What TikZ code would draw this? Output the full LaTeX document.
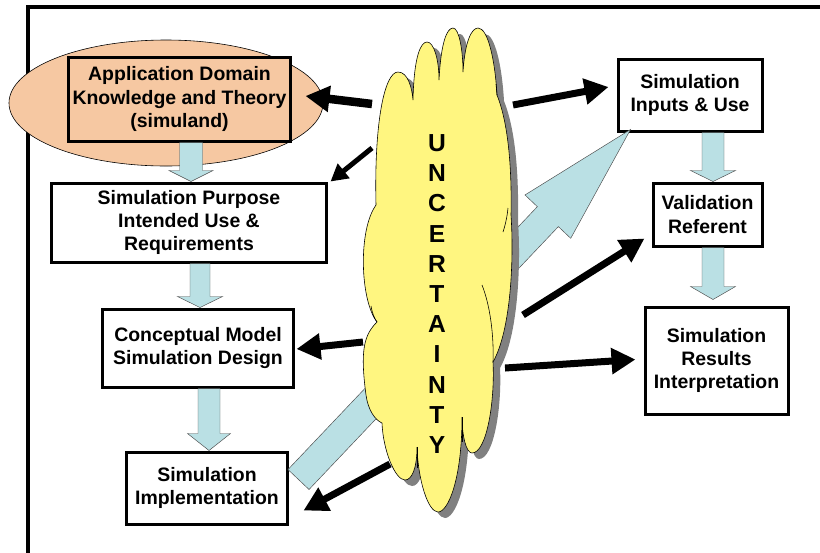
\documentclass[tikz,border=0pt]{standalone}
\usepackage{fontspec}
\setmainfont{Liberation Sans}
\usetikzlibrary{arrows.meta, calc}
\definecolor{peach}{RGB}{246, 200, 162}
\definecolor{paleblue}{RGB}{186, 224, 228}
\definecolor{cloudyellow}{RGB}{255, 246, 128}
\definecolor{shadowgray}{RGB}{128, 128, 128}
\newcommand\boxfont{\fontsize{16.6}{19.8}\selectfont\bfseries}
% tail, tip, shaft half width, head half width, head length
\newcommand\blockarrow[5]{%
  \filldraw[blockarrow] let \p1=#1, \p2=#2,
    \n1={atan2(\y2-\y1,\x2-\x1)}, \n2={veclen(\x2-\x1,\y2-\y1)} in
    ($(\p1)+(\n1+90:#3)$) -- ($(\p1)+(\n1:{\n2-#5})+(\n1+90:#3)$)
    -- ($(\p1)+(\n1:{\n2-#5})+(\n1+90:#4)$) -- (\p2)
    -- ($(\p1)+(\n1:{\n2-#5})+(\n1-90:#4)$)
    -- ($(\p1)+(\n1:{\n2-#5})+(\n1-90:#3)$)
    -- ($(\p1)+(\n1-90:#3)$) -- cycle;}
\newcommand\cloudpath{(376,205) .. controls (374,120) and (385,72) .. (398,72)
  .. controls (408,72) and (412,88) .. (413,100)
  .. controls (414,55) and (421,42) .. (427,42)
  .. controls (434,42) and (439,60) .. (439,80)
  .. controls (441,42) and (447,28) .. (453,28)
  .. controls (459,28) and (463,50) .. (463,72)
  .. controls (465,40) and (472,28) .. (478,28)
  .. controls (488,28) and (495,60) .. (497,95)
  .. controls (507,120) and (512,160) .. (511,215)
  .. controls (514,260) and (511,330) .. (493,362)
  .. controls (495,400) and (487,453) .. (472,453)
  .. controls (466,453) and (462,435) .. (462,417)
  .. controls (462,480) and (448,512) .. (438,512)
  .. controls (428,512) and (418,480) .. (417,447)
  .. controls (417,468) and (412,480) .. (405,480)
  .. controls (395,480) and (383,450) .. (382,423)
  .. controls (375,420) and (368,410) .. (366,395)
  .. controls (360,350) and (364,335) .. (377,322)
  .. controls (360,300) and (358,230) .. (376,205) -- cycle}

\begin{document}
\begin{tikzpicture}[x=0.03cm, y=-0.03cm,
  box/.style={draw, line width=0.09cm, font=\boxfont, align=center, inner sep=0pt},
  blockarrow/.style={fill=paleblue, draw=black!70, line width=0.4pt},
  blackarrow/.style={line width=0.21cm, -{Triangle[length=0.72cm, width=0.75cm]}},
  lobe/.style={draw=black, line width=0.5pt},
]
\useasboundingbox (0,0) rectangle (820,552);

% Frame
\draw[line width=0.12cm] (27.5,560) -- (27.5,6.5) -- (830,6.5);

% Domain
\filldraw[fill=peach, draw=black, line width=0.5pt] (166,103) ellipse [x radius=4.71cm, y radius=1.89cm];

% Boxes
\node[box, fill=peach, minimum width=6.63cm, minimum height=2.52cm] (app) at (179.5,99)
  {Application Domain\\Knowledge and Theory\\(simuland)};
\node[box, fill=white, minimum width=8.22cm, minimum height=2.37cm] (purpose) at (189,222.5)
  {Simulation Purpose\\Intended Use \&\\Requirements};
\node[box, fill=white, minimum width=5.7cm, minimum height=2.34cm] (concept) at (198,348)
  {Conceptual Model\\Simulation Design};
\node[box, fill=white, minimum width=4.8cm, minimum height=2.16cm] (impl) at (207,488)
  {Simulation\\Implementation};
\node[box, fill=white, minimum width=4.32cm, minimum height=2.16cm] (inputs) at (690,95)
  {Simulation\\Inputs \& Use};
\node[box, fill=white, minimum width=3.27cm, minimum height=1.89cm] (valid) at (707.5,214.5)
  {Validation\\Referent};
\node[box, fill=white, minimum width=4.29cm, minimum height=3.21cm] (results) at (716.5,360.5)
  {Simulation\\Results\\Interpretation};

% Block arrows
\blockarrow{($(app.south)+(11.5,0)$)}{($(purpose.north)+(2,0)$)}{0.345cm}{0.66cm}{0.33cm}
\blockarrow{($(purpose.south)+(11,0)$)}{($(concept.north)+(2,0)$)}{0.3cm}{0.675cm}{0.33cm}
\blockarrow{($(concept.south)+(11,0)$)}{($(impl.north)+(2,0)$)}{0.33cm}{0.645cm}{0.51cm}
\blockarrow{($(inputs.south)+(23,0)$)}{($(valid.north)+(5.5,0)$)}{0.33cm}{0.675cm}{0.33cm}
\blockarrow{($(valid.south)+(5.5,0)$)}{($(results.north)+(-3.5,-6)$)}{0.33cm}{0.675cm}{0.39cm}

\coordinate (diagtail) at ($(impl.east)+(10,-8.5)$);
\coordinate (diagtip) at ($(inputs.south west)+(14,-3)$);
\blockarrow{(diagtail)}{(diagtip)}{0.435cm}{0.945cm}{3.6cm}

% Cloud
\fill[shadowgray, shift={(7,6)}] \cloudpath;
\filldraw[fill=cloudyellow, draw=black, line width=0.5pt] \cloudpath;
\draw[lobe] (497,95) -- (496,84);
\draw[lobe] (508,208) .. controls (507,218) and (505,226) .. (503,232);
\draw[lobe] (482,285) .. controls (490,305) and (494,335) .. (493,362);
\draw[lobe] (462,417) -- (462,442);
\draw[lobe] (417,447) -- (417,468);
\draw[lobe] (377,322) .. controls (374,318) and (372,312) .. (371,306);
\node[font=\fontsize{21}{25.8}\selectfont\bfseries, align=center] (uncert) at (437,294)
  {U\\N\\C\\E\\R\\T\\A\\I\\N\\T\\Y};

% Arrows from the cloud
\coordinate (ua) at (372,104);
\coordinate (ub) at (372,148);
\coordinate (uc) at (513,105);
\coordinate (ud) at (523,315);
\coordinate (ue) at (505,368);
\coordinate (uf) at (363,342);
\coordinate (ug) at (390,464);
\draw[blackarrow, line width=0.255cm] (ua) -- ($(app.east)+(14,-3)$);
\draw[blackarrow, line width=0.15cm, -{Triangle[length=0.51cm, width=0.54cm]}]
  (ub) -- ($(purpose.north east)+(3,0)$);
\draw[blackarrow] (uc) -- ($(inputs.west)+(-8,-8)$);
\draw[blackarrow] (ud) -- ($(valid.south west)+(-7,-9)$);
\draw[blackarrow] (ue) -- ($(results.west)+(-8,-1)$);
\draw[blackarrow] (uf) -- ($(concept.east)+(2,1)$);
\draw[blackarrow] (ug) -- ($(impl.south east)+(15,-15)$);
\end{tikzpicture}
\end{document}
